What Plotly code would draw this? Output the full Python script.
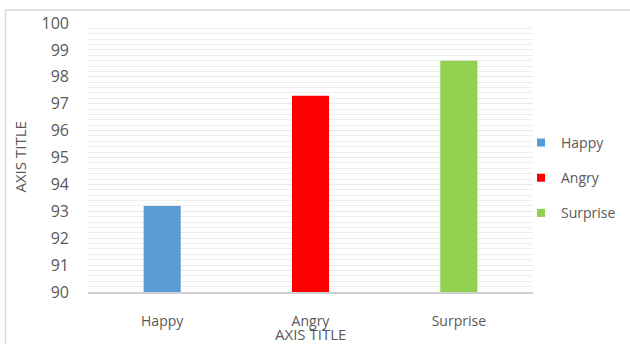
import plotly.graph_objects as go

# Scores per emotion category
categories = ["Happy", "Angry", "Surprise"]
values = [93.2, 97.3, 98.6]
colors = ["#5b9bd5", "#ff0000", "#92d050"]

y_ticks = list(range(90, 101))

FONT = "Open Sans"
TEXT = "#595959"

fig = go.Figure()

# One bar trace per category so each gets its own colour
for cat, val, col in zip(categories, values, colors):
    fig.add_trace(go.Bar(
        x=[cat], y=[val], name=cat,
        marker=dict(color=col, line=dict(width=0)),
        width=0.25, showlegend=False,
    ))
    # small square legend swatch
    fig.add_trace(go.Scatter(
        x=[None], y=[None], mode="markers", name=cat,
        marker=dict(symbol="square", size=8, color=col),
        legendgroup=cat, showlegend=True,
    ))

fig.update_layout(
    width=630, height=344,
    margin=dict(l=88, r=97, t=23, b=52, autoexpand=False),
    paper_bgcolor="white", plot_bgcolor="white",
    barmode="overlay",
    font=dict(family=FONT, color=TEXT),
    legend=dict(
        x=0.973, xanchor="left", y=0.424, yanchor="middle",
        font=dict(family=FONT, size=14, color=TEXT),
        tracegroupgap=14, itemwidth=30,
        bgcolor="rgba(0,0,0,0)",
    ),
    xaxis=dict(
        type="category", categoryorder="array", categoryarray=categories,
        showgrid=False, zeroline=False,
        showline=True, linecolor="#d0d0d0", linewidth=2,
        ticks="", tickfont=dict(family=FONT, size=14, color=TEXT),
        ticklabelstandoff=15,
    ),
    yaxis=dict(
        range=[90, 100], tickvals=y_ticks,
        showgrid=True, gridcolor="#e8e8e8", gridwidth=1,
        minor=dict(dtick=0.2, showgrid=True, gridcolor="#eeeeee", gridwidth=1),
        zeroline=False, showline=False, ticks="",
        tickfont=dict(family=FONT, size=16, color=TEXT),
        ticklabelstandoff=18,
    ),
    annotations=[
        dict(text="AXIS TITLE", xref="paper", yref="paper", x=-0.155, y=0.5,
             xanchor="center", yanchor="middle",
             textangle=-90, showarrow=False,
             font=dict(family=FONT, size=15, color=TEXT)),
        dict(text="AXIS TITLE", xref="paper", yref="paper", x=0.499, y=-0.155,
             xanchor="center", yanchor="middle",
             showarrow=False, font=dict(family=FONT, size=15, color=TEXT)),
    ],
    shapes=[
        dict(type="rect", xref="paper", yref="paper",
             x0=-0.1854, x1=1.4, y0=-0.4, y1=1.048,
             line=dict(color="#d9d9d9", width=1.5), layer="below"),
    ],
)

fig.write_html("out.html")
